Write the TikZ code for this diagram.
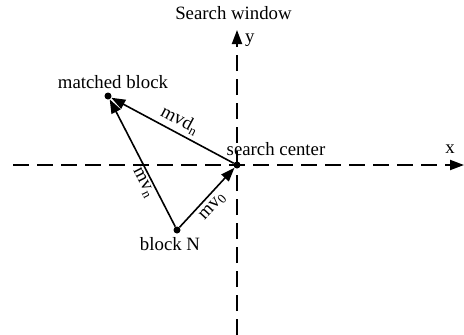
\documentclass[tikz,border=0pt]{standalone}
\usepackage{fontspec}
\setmainfont{Liberation Serif}
\usetikzlibrary{arrows.meta}
\begin{document}
\begin{tikzpicture}[x=1pt,y=-1pt,
  lbl/.style={font=\fontsize{18.8}{22}\selectfont, inner sep=0pt},
  axisline/.style={line width=2pt, dash pattern=on 16pt off 8pt,
    -{Triangle[length=14pt,width=10pt]}},
  vec/.style={line width=1.6pt, -{Triangle[length=14pt,width=10pt]}},
  dot/.style={circle, fill, inner sep=0pt, minimum size=7pt}]
\useasboundingbox (0,0) rectangle (464,335);

% axes
\coordinate (xs) at (13,165);
\coordinate (xe) at (464,165);
\coordinate (ys) at (237,335);
\coordinate (ye) at (237,30);
\draw[axisline] (xs) -- (xe);
\draw[axisline] (ys) -- (ye);

% points
\node[dot] (sc) at (237,165) {};
\node[dot] (mb) at (108,96) {};
\node[dot] (bn) at (177,230) {};

% motion vectors
\draw[vec] (sc) -- (mb);
\draw[vec] (bn) -- (mb);
\draw[vec] (bn) -- (sc);

% labels
\node[lbl, anchor=base] (tw) at (233.5,19) {Search window};
\node[lbl, anchor=base west] (ty) at (245,42) {y};
\node[lbl, anchor=base] (tx) at (450,153) {x};
\node[lbl, anchor=base] (tmb) at (113,88) {matched block};
\node[lbl, anchor=base] (tsc) at (276,155) {search center};
\node[lbl, anchor=base] (tbn) at (170,250) {block N};
\node[lbl, rotate=-28] (tmvd) at (180,120) {mvd\textsubscript{n}};
\node[lbl, rotate=-63] (tmvn) at (143,183) {mv\textsubscript{n}};
\node[lbl, rotate=47] (tmv0) at (213,207) {mv\textsubscript{0}};
\end{tikzpicture}
\end{document}
